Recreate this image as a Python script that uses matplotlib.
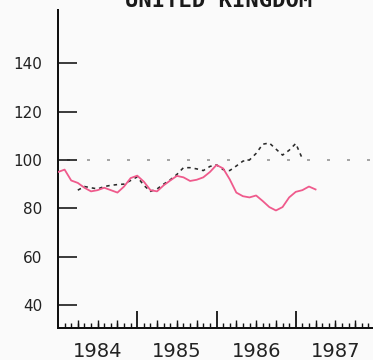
import numpy as np
import matplotlib.pyplot as plt

# Monatswerte (Index), Start Januar 1984
pink_start = 1984.0
pink_values = [95, 96, 91.5, 90.5, 88.5, 87, 87.5, 88.5, 87.5, 86.5, 89, 92.5,
               93.5, 91, 87.5, 87, 89.5, 91.5, 93.4, 92.8, 91.3, 91.8, 92.8, 95,
               97.9, 96.5, 92, 86.5, 85, 84.5, 85.3, 83, 80.5, 79.1, 80.5, 84.5,
               86.8, 87.5, 89, 87.8]

# Gestrichelte Reihe, Start April 1984
black_start = 1984.0 + 3 / 12
black_values = [87.5, 89, 88.5, 88, 89, 89.5, 89.8, 90, 91.5, 93, 89.5, 87,
                88, 90, 91.8, 94, 96.8, 96.8, 96.3, 95.6, 97.3, 98, 96, 95.6,
                97.5, 99.5, 100, 102.7, 106.5, 107, 104.5, 102, 104, 106.8, 100.5]

reference_level = 100
title = "UNITED KINGDOM"
years = [1984, 1985, 1986, 1987]
y_ticks = [40, 60, 80, 100, 120, 140]

PX = 72 / 100  # Pixel -> Punkt bei dpi=100
plt.rcParams['lines.scale_dashes'] = False

fig = plt.figure(figsize=(3.73, 3.60), dpi=100)
fig.patch.set_facecolor('#fafafa')
ax = fig.add_axes([58 / 373, 32 / 360, 317 / 373, 318 / 360])
ax.set_facecolor('none')

t_pink = pink_start + np.arange(len(pink_values)) / 12
t_black = black_start + np.arange(len(black_values)) / 12

ax.axhline(reference_level, color='#8a8a8a', lw=1.5 * PX,
           linestyle=(11 * PX, (3 * PX, 17 * PX)), zorder=1)
ax.plot(t_black, black_values, color='#2a2a2a', lw=1.6 * PX,
        linestyle=(0, (3.5 * PX, 4 * PX)), zorder=2)
ax.plot(t_pink, pink_values, color='#ef5a8c', lw=1.8 * PX, zorder=3)

ax.set_xlim(1984.0, 1988.0)
ax.set_ylim(30.5, 162)

for side in ['top', 'right']:
    ax.spines[side].set_visible(False)
for side in ['left', 'bottom']:
    ax.spines[side].set_linewidth(2 * PX)
    ax.spines[side].set_color('#111111')

# y-Achse
ax.set_yticks(y_ticks)
ax.set_yticklabels([str(v) for v in y_ticks], fontsize=11, color='#222222')
ax.tick_params(axis='y', direction='in', length=19 * PX, width=1.6 * PX,
               pad=16 * PX, color='#111111')

# x-Achse: Jahre (lang), Monate (kurz)
ax.set_xticks(years + [1988])
ax.set_xticklabels([])
ax.set_xticks([1984 + m / 12 for m in range(48) if m % 12 != 0], minor=True)
ax.tick_params(axis='x', which='major', direction='in', length=17 * PX,
               width=1.8 * PX, color='#111111')
ax.tick_params(axis='x', which='minor', direction='in', length=5 * PX,
               width=1.4 * PX, color='#111111')

# Quartalsstriche
quarter = ax.secondary_xaxis('bottom')
quarter.set_xticks([1984 + m / 12 for m in range(48) if m % 3 == 0 and m % 12 != 0])
quarter.set_xticklabels([])
quarter.tick_params(axis='x', direction='in', length=8.5 * PX, width=1.4 * PX,
                    color='#111111')
quarter.spines['bottom'].set_visible(False)

# Jahresbeschriftung mittig
labels = ax.secondary_xaxis('bottom')
labels.set_xticks([y + 0.5 for y in years])
labels.set_xticklabels([str(y) for y in years], fontsize=14, color='#222222')
labels.tick_params(axis='x', length=0, pad=14 * PX)
labels.spines['bottom'].set_visible(False)

fig.text(219 / 373, 1 - 7 / 360, title, ha='center', va='baseline',
         fontsize=16, family='DejaVu Sans Mono', fontweight='bold',
         color='#1a1a1a')

fig.savefig('out.png', dpi=100, facecolor=fig.get_facecolor())
